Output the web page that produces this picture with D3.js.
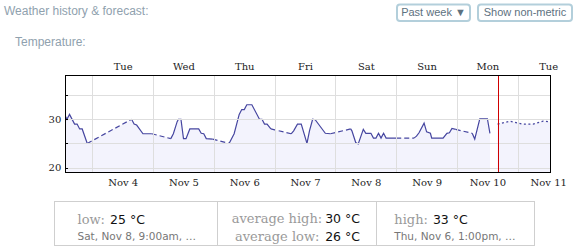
<!DOCTYPE html>
<html><head><meta charset="utf-8">
<script src="https://cdn.jsdelivr.net/npm/d3@7"></script>
<style>body{margin:0;background:#fff} svg{display:block}</style>
</head><body><svg id="c" width="575" height="249"></svg>
<script>
// ---- data ----
const histTimes = [
 "2014-11-03T13:00","2014-11-03T14:00","2014-11-03T15:00","2014-11-03T17:00","2014-11-03T18:00","2014-11-03T19:00","2014-11-03T20:00","2014-11-03T22:00",
 "2014-11-04T15:30","2014-11-04T16:30","2014-11-04T17:30","2014-11-04T20:00","2014-11-04T23:30",
 "2014-11-05T07:00","2014-11-05T08:00","2014-11-05T09:30","2014-11-05T10:00","2014-11-05T11:00","2014-11-05T12:00","2014-11-05T13:00","2014-11-05T14:30","2014-11-05T18:00","2014-11-05T19:00","2014-11-05T20:00","2014-11-05T21:00","2014-11-05T23:30",
 "2014-11-06T06:00","2014-11-06T08:00","2014-11-06T10:00","2014-11-06T11:00","2014-11-06T12:00","2014-11-06T13:00","2014-11-06T15:00","2014-11-06T18:00","2014-11-06T19:00","2014-11-06T20:00","2014-11-06T21:00","2014-11-06T22:30",
 "2014-11-07T06:30","2014-11-07T07:30","2014-11-07T09:00","2014-11-07T10:30","2014-11-07T12:45","2014-11-07T13:45","2014-11-07T15:00","2014-11-07T16:00","2014-11-07T18:00","2014-11-07T20:00","2014-11-07T22:00",
 "2014-11-08T06:00","2014-11-08T06:30","2014-11-08T08:00","2014-11-08T09:00","2014-11-08T11:00","2014-11-08T12:00","2014-11-08T14:00","2014-11-08T15:00","2014-11-08T16:00","2014-11-08T17:00","2014-11-08T18:00","2014-11-08T19:00","2014-11-08T20:00",
 "2014-11-09T00:00","2014-11-09T07:00","2014-11-09T08:00","2014-11-09T09:00","2014-11-09T11:00","2014-11-09T12:00","2014-11-09T13:30","2014-11-09T14:00","2014-11-09T18:30","2014-11-09T20:00","2014-11-09T21:00","2014-11-09T22:00","2014-11-09T23:30",
 "2014-11-10T06:00","2014-11-10T07:00","2014-11-10T09:00","2014-11-10T12:00","2014-11-10T13:00"
];
const histTemps = [
 31,30,31,29,29,28,28,25,
 30,29,28.8,27,27,
 26,27,29.5,30,30,26,26,28,28,27.1,27,26,25.9,
 25,27,31,32,32,33,33,30,30,29,29,28,
 27,27.6,29,29,25,27.6,30,29.9,28.5,27.1,27,
 28,27.6,25.2,24.9,27.9,27.1,27.1,26.1,26.1,27.1,26.1,27.1,26.1,
 26.1,26.1,26.5,27.2,29.2,27.4,27.1,26.1,26.1,27.1,27.2,28.1,27.9,
 27.1,25.9,30.1,30.1,27.1
];
const foreTimes = ["2014-11-10T16:00","2014-11-10T21:00","2014-11-11T00:00","2014-11-11T02:00","2014-11-11T06:00","2014-11-11T10:00","2014-11-11T14:00"];
const foreTemps = [29,29.6,29.2,29,29,29.6,29.4];
const nowTime = "2014-11-10T16:00";
const xDomain = ["2014-11-03T13:20","2014-11-11T12:50"];
const yDomain = [19.1, 39];
const yTicks = [20,25,30,35];
const yTickLabels = ["20","","30",""];
const dayNoons = ["2014-11-04T12:00","2014-11-05T12:00","2014-11-06T12:00","2014-11-07T12:00","2014-11-08T12:00","2014-11-09T12:00","2014-11-10T12:00","2014-11-11T12:00"];
const midnights = ["2014-11-04T00:00","2014-11-05T00:00","2014-11-06T00:00","2014-11-07T00:00","2014-11-08T00:00","2014-11-09T00:00","2014-11-10T00:00","2014-11-11T00:00"];
const gapHours = 5;
const statLabels = ["low:","average high:","average low:","high:"];
const statValues = ["25 \u00B0C","30 \u00B0C","26 \u00B0C","33 \u00B0C"];
const statNotes = ["Sat, Nov 8, 9:00am, \u2026","Thu, Nov 6, 1:00pm, \u2026"];

// ---- drawing ----
const parse = d3.utcParse("%Y-%m-%dT%H:%M");
const svg = d3.select("#c");
const L = 65.3, R = 550.3, T = 75.7, B = 172;
const x = d3.scaleUtc().domain(xDomain.map(parse)).range([L, R]);
const y = d3.scaleLinear().domain(yDomain).range([B, T]);

const hist = histTimes.map((t,i)=>({t:parse(t), v:histTemps[i]}));
const fore = foreTimes.map((t,i)=>({t:parse(t), v:foreTemps[i]}));

// header
svg.append("text").attr("x",4).attr("y",15).attr("font-family","Liberation Sans, Arial, sans-serif")
  .attr("font-size",12).attr("fill","#8fa1ae").text("Weather history & forecast:");
svg.append("text").attr("x",15).attr("y",46.3).attr("font-family","Liberation Sans, Arial, sans-serif")
  .attr("font-size",12).attr("fill","#8fa1ae").text("Temperature:");

// buttons
const buttons = [{x:397,w:73,label:"Past week \u25BC"},{x:478,w:94,label:"Show non-metric"}];
buttons.forEach(b=>{
  svg.append("rect").attr("x",b.x).attr("y",4.5).attr("width",b.w).attr("height",16.5).attr("rx",3)
    .attr("fill","#fff").attr("stroke","#b3cfdb").attr("stroke-width",2);
  svg.append("text").attr("x",b.x+b.w/2).attr("y",16.3).attr("text-anchor","middle")
    .attr("font-family","Liberation Sans, Arial, sans-serif").attr("font-size",11).attr("fill","#5d7180").text(b.label);
});

// clip
svg.append("clipPath").attr("id","clip").append("rect").attr("x",L).attr("y",T).attr("width",R-L).attr("height",B-T);
const plot = svg.append("g").attr("clip-path","url(#clip)");

// areas
const area = d3.area().x(d=>x(d.t)).y0(B).y1(d=>y(d.v));
plot.append("path").datum(hist).attr("d",area).attr("fill","#f3f3fd");
plot.append("path").datum(fore).attr("d",area).attr("fill","#f3f3fd");

// grid
const gridG = svg.append("g").attr("shape-rendering","crispEdges");
gridG.append("g").attr("transform",`translate(0,${B})`)
  .call(d3.axisBottom(x).tickValues(midnights.map(parse)).tickSize(-(B-T)).tickFormat(""))
  .call(g=>{g.select(".domain").remove(); g.selectAll("line").attr("stroke","#dedede");});
gridG.append("g").attr("transform",`translate(${L},0)`)
  .call(d3.axisLeft(y).tickValues(yTicks).tickSize(-(R-L)).tickFormat(""))
  .call(g=>{g.select(".domain").remove(); g.selectAll("line").attr("stroke","#dedede");});

// line segments
const line = d3.line().x(d=>x(d.t)).y(d=>y(d.v));
let seg = [hist[0]];
const solids = [], dashes = [];
for (let i=1;i<hist.length;i++){
  const gap = (hist[i].t - hist[i-1].t)/3600000;
  if (gap > gapHours){
    solids.push(seg); dashes.push([hist[i-1],hist[i]]); seg=[hist[i]];
  } else seg.push(hist[i]);
}
solids.push(seg);
const lc = "#4646a0";
solids.forEach(s=>plot.append("path").datum(s).attr("d",line).attr("fill","none").attr("stroke",lc).attr("stroke-width",1.2));
dashes.forEach(s=>plot.append("path").datum(s).attr("d",line).attr("fill","none").attr("stroke",lc).attr("stroke-width",1.2).attr("stroke-dasharray","5,3"));
plot.append("path").datum(fore).attr("d",line).attr("fill","none").attr("stroke",lc).attr("stroke-width",1.2).attr("stroke-dasharray","2,2.5");

// now line
const nx = Math.round(x(parse(nowTime)))+0.5;
svg.append("line").attr("x1",nx).attr("x2",nx).attr("y1",T).attr("y2",B).attr("stroke","#d00000").attr("stroke-width",1);

// border
svg.append("rect").attr("x",65.5).attr("y",75.5).attr("width",485).attr("height",96.5)
  .attr("fill","none").attr("stroke","#000").attr("stroke-width",1).attr("shape-rendering","crispEdges");

// axes
const tf = "DejaVu Serif, serif";
svg.append("g").attr("transform",`translate(0,${T})`)
  .call(d3.axisTop(x).tickValues(dayNoons.map(parse)).tickSize(0).tickPadding(5.7).tickFormat(d3.utcFormat("%a")))
  .call(g=>{g.select(".domain").remove(); g.selectAll("text").attr("font-family",tf).attr("font-size",10).attr("fill","#222");});
svg.append("g").attr("transform",`translate(0,${B})`)
  .call(d3.axisBottom(x).tickValues(dayNoons.map(parse)).tickSize(0).tickPadding(7).tickFormat(d3.utcFormat("%b %-d")))
  .call(g=>{g.select(".domain").remove(); g.selectAll("text").attr("font-family",tf).attr("font-size",10).attr("fill","#222");});
svg.append("g").attr("transform",`translate(${L},0)`)
  .call(d3.axisLeft(y).tickValues(yTicks).tickSizeInner(-3).tickSizeOuter(0).tickPadding(4).tickFormat((d,i)=>yTickLabels[i]))
  .call(g=>{g.select(".domain").remove(); g.selectAll("line").attr("stroke","#000").attr("shape-rendering","crispEdges");
    g.selectAll("text").attr("font-family",tf).attr("font-size",10).attr("fill","#222");});

// stats box
const box = svg.append("g").attr("shape-rendering","crispEdges");
box.append("rect").attr("x",54.5).attr("y",201.5).attr("width",480).attr("height",44).attr("fill","none").attr("stroke","#cfcfcf");
[217.5,376.5].forEach(xx=>box.append("line").attr("x1",xx).attr("x2",xx).attr("y1",201.5).attr("y2",245.5).attr("stroke","#cfcfcf"));
const lab = (xx,yy,t,anchor)=>svg.append("text").attr("x",xx).attr("y",yy).attr("text-anchor",anchor||"start").attr("font-family",tf).attr("font-size",13).attr("fill","#9a9a9a").text(t);
const val = (xx,yy,t,anchor)=>svg.append("text").attr("x",xx).attr("y",yy).attr("text-anchor",anchor||"start").attr("font-family","DejaVu Sans, sans-serif").attr("font-size",12.5).attr("fill","#111").text(t);
const note = (xx,yy,t)=>svg.append("text").attr("x",xx).attr("y",yy).attr("font-family","DejaVu Sans, sans-serif").attr("font-size",10.5).attr("fill","#777").text(t);
// left cell
const l1 = lab(77.5,223.5,statLabels[0]);
val(77.5 + l1.node().getComputedTextLength() + 5, 223.5, statValues[0]);
note(77.5,240,statNotes[0]);
// middle cell
lab(231.7,223,statLabels[1]);
lab(235,240.5,statLabels[2]);
val(360,223,statValues[1],"end");
val(360,240.5,statValues[2],"end");
// right cell
const l4 = lab(394.3,223.5,statLabels[3]);
val(394.3 + l4.node().getComputedTextLength() + 5, 223.5, statValues[3]);
note(394.3,240,statNotes[1]);
</script></body></html>
